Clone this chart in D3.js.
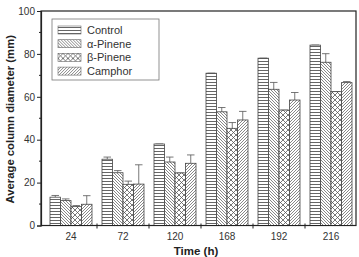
<!DOCTYPE html>
<html>
<head>
<meta charset="utf-8">
<script src="https://cdn.jsdelivr.net/npm/d3@7"></script>
<style>
body { margin: 0; background: #fff; }
text { font-family: Arial, "Liberation Sans", sans-serif; }
</style>
</head>
<body>
<script>
var times = ['24', '72', '120', '168', '192', '216'];
var series = ['Control', 'α-Pinene', 'β-Pinene', 'Camphor'];
var control = [13.2, 30.9, 38, 71, 78, 84.1];
var controlErr = [0.8, 1, 0, 0, 0, 0];
var alpha = [11.6, 24.6, 29.6, 53, 63.5, 76.1];
var alphaErr = [0.8, 1, 2.3, 2, 3.2, 4];
var beta = [8.8, 19.2, 24.5, 45.3, 53.8, 62.4];
var betaErr = [0.5, 1.5, 0, 2.7, 0, 0];
var camphor = [9.9, 19.3, 29, 49.2, 58.5, 66.6];
var camphorErr = [4, 9, 3.9, 4, 3.5, 0.5];
var yTicks = [0, 20, 40, 60, 80, 100];

var values = [control, alpha, beta, camphor];
var errs = [controlErr, alphaErr, betaErr, camphorErr];

var width = 359, height = 257;
var pLeft = 41, pRight = 356, pTop = 11, pBottom = 225.5;

var svg = d3.select('body').append('svg')
	.attr('width', width)
	.attr('height', height);

// hatch patterns
var defs = svg.append('defs');
var ink = '#555';

var p0 = defs.append('pattern').attr('id', 'pat0')
	.attr('patternUnits', 'userSpaceOnUse').attr('width', 4).attr('height', 3);
p0.append('rect').attr('width', 4).attr('height', 3).attr('fill', '#fff');
p0.append('line').attr('x1', 0).attr('x2', 4).attr('y1', 1.5).attr('y2', 1.5)
	.attr('stroke', ink).attr('stroke-width', 0.9);

var p1 = defs.append('pattern').attr('id', 'pat1')
	.attr('patternUnits', 'userSpaceOnUse').attr('width', 3).attr('height', 3);
p1.append('rect').attr('width', 3).attr('height', 3).attr('fill', '#fff');
p1.append('path').attr('d', 'M-1,-1L4,4M-1,2L1,4M2,-1L4,1')
	.attr('stroke', ink).attr('stroke-width', 0.7);

var p2 = defs.append('pattern').attr('id', 'pat2')
	.attr('patternUnits', 'userSpaceOnUse').attr('width', 5).attr('height', 5);
p2.append('rect').attr('width', 5).attr('height', 5).attr('fill', '#fff');
p2.append('path').attr('d', 'M0,0L5,5M5,0L0,5')
	.attr('stroke', ink).attr('stroke-width', 0.8);

var p3 = defs.append('pattern').attr('id', 'pat3')
	.attr('patternUnits', 'userSpaceOnUse').attr('width', 3).attr('height', 3);
p3.append('rect').attr('width', 3).attr('height', 3).attr('fill', '#fff');
p3.append('path').attr('d', 'M-1,4L4,-1M-1,1L1,-1M2,4L4,2')
	.attr('stroke', ink).attr('stroke-width', 0.7);

var x0 = d3.scaleBand().domain(times).range([45, 357]);
var x1 = d3.scaleBand().domain(d3.range(series.length)).range([5, 47]);
var y = d3.scaleLinear().domain([0, 100]).range([pBottom, pTop]);

// frame
svg.append('rect')
	.attr('x', pLeft).attr('y', pTop)
	.attr('width', pRight - pLeft).attr('height', pBottom - pTop)
	.attr('fill', 'none').attr('stroke', '#222').attr('stroke-width', 1.2);

// bars
var groups = svg.selectAll('.grp')
	.data(times)
	.enter().append('g')
	.attr('class', 'grp')
	.attr('transform', function (d) { return 'translate(' + x0(d) + ',0)'; });

series.forEach(function (s, si) {
	// error bars (upper half)
	groups.append('line')
		.attr('x1', x1(si) + x1.bandwidth() / 2)
		.attr('x2', x1(si) + x1.bandwidth() / 2)
		.attr('y1', function (d, i) { return y(values[si][i]); })
		.attr('y2', function (d, i) { return y(values[si][i] + errs[si][i]); })
		.attr('stroke', '#555').attr('stroke-width', 0.8);
	groups.append('line')
		.attr('x1', x1(si) + 1.5)
		.attr('x2', x1(si) + x1.bandwidth() - 1.5)
		.attr('y1', function (d, i) { return y(values[si][i] + errs[si][i]); })
		.attr('y2', function (d, i) { return y(values[si][i] + errs[si][i]); })
		.attr('stroke', '#555').attr('stroke-width', 0.8);
	groups.append('rect')
		.attr('x', x1(si))
		.attr('width', x1.bandwidth())
		.attr('y', function (d, i) { return y(values[si][i]); })
		.attr('height', function (d, i) { return pBottom - y(values[si][i]); })
		.attr('fill', 'url(#pat' + si + ')')
		.attr('stroke', '#444').attr('stroke-width', 0.8);
});

// x axis
var xAxis = svg.append('g')
	.attr('transform', 'translate(0,' + pBottom + ')');
xAxis.append('line').attr('x1', pLeft).attr('x2', pRight)
	.attr('stroke', '#222').attr('stroke-width', 1.2);
xAxis.selectAll('.xt')
	.data(times.slice(1))
	.enter().append('line')
	.attr('x1', function (d) { return x0(d); })
	.attr('x2', function (d) { return x0(d); })
	.attr('y1', -2).attr('y2', 3)
	.attr('stroke', '#222').attr('stroke-width', 1);
xAxis.selectAll('.xl')
	.data(times)
	.enter().append('text')
	.attr('x', function (d) { return x0(d) + x0.bandwidth() / 2; })
	.attr('y', 14)
	.attr('text-anchor', 'middle')
	.attr('font-size', 10)
	.attr('fill', '#333')
	.text(function (d) { return d; });

// y axis
var yAxis = svg.append('g')
	.attr('transform', 'translate(' + pLeft + ',0)')
	.call(d3.axisLeft(y).tickValues(yTicks).tickSize(4).tickPadding(2));
yAxis.select('.domain').attr('stroke', '#222').attr('stroke-width', 1.2);
yAxis.selectAll('.tick line').attr('stroke', '#222');
yAxis.selectAll('.tick text')
	.attr('font-size', 10).attr('fill', '#333')
	.attr('font-family', 'Arial, "Liberation Sans", sans-serif');
yAxis.selectAll('.minor')
	.data(d3.range(10, 100, 20))
	.enter().append('line')
	.attr('x1', -2).attr('x2', 0)
	.attr('y1', function (d) { return y(d); })
	.attr('y2', function (d) { return y(d); })
	.attr('stroke', '#222');

// axis titles
svg.append('text')
	.attr('transform', 'translate(14,' + ((pTop + pBottom) / 2 + 1) + ') rotate(-90)')
	.attr('text-anchor', 'middle')
	.attr('font-size', 11.3).attr('font-weight', 'bold').attr('fill', '#222')
	.text('Average column diameter (mm)');
svg.append('text')
	.attr('x', 196).attr('y', 255)
	.attr('text-anchor', 'middle')
	.attr('font-size', 11.5).attr('font-weight', 'bold').attr('fill', '#222')
	.text('Time (h)');

// legend
var legend = svg.append('g').attr('transform', 'translate(52,19)');
legend.append('rect')
	.attr('width', 107).attr('height', 61)
	.attr('fill', '#fff').attr('stroke', '#777').attr('stroke-width', 0.8);
var items = legend.selectAll('.li')
	.data(series)
	.enter().append('g')
	.attr('transform', function (d, i) { return 'translate(6,' + (7 + i * 13.7) + ')'; });
items.append('rect')
	.attr('width', 23).attr('height', 8)
	.attr('fill', function (d, i) { return 'url(#pat' + i + ')'; })
	.attr('stroke', '#666').attr('stroke-width', 0.6);
items.append('text')
	.attr('x', 29).attr('y', 8)
	.attr('font-size', 11).attr('fill', '#333')
	.text(function (d) { return d; });
</script>
</body>
</html>
